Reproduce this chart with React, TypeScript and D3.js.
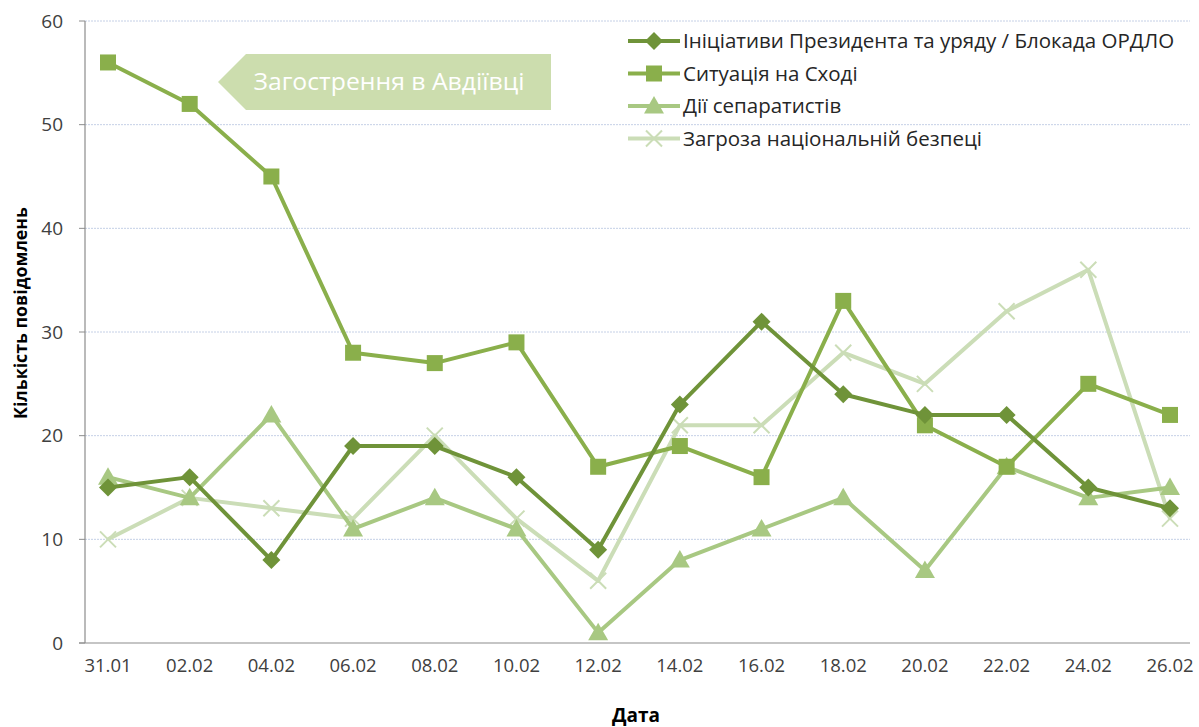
import React from "react";
import * as d3 from "d3";

const categories = ["31.01","02.02","04.02","06.02","08.02","10.02","12.02","14.02","16.02","18.02","20.02","22.02","24.02","26.02"];
const seriesNames = [
  "Ініціативи Президента та уряду / Блокада ОРДЛО",
  "Ситуація на Сході",
  "Дії сепаратистів",
  "Загроза національній безпеці",
];
const initiatives = [15, 16, 8, 19, 19, 16, 9, 23, 31, 24, 22, 22, 15, 13];
const situationEast = [56, 52, 45, 28, 27, 29, 17, 19, 16, 33, 21, 17, 25, 22];
const separatists = [16, 14, 22, 11, 14, 11, 1, 8, 11, 14, 7, 17, 14, 15];
const threat = [10, 14, 13, 12, 20, 12, 6, 21, 21, 28, 25, 32, 36, 12];
const yTicks = [0, 10, 20, 30, 40, 50, 60];
const calloutText = "Загострення в Авдіївці";
const yTitle = "Кількість повідомлень";
const xTitle = "Дата";

const colors = ["#6F9339", "#8AAF4B", "#A8C882", "#CBDDB7"];
const markers = ["diamond", "square", "triangle", "cross"];
const FONT = "'Open Sans', 'Noto Sans', sans-serif";

function Marker({ type, x, y, color }: { type: string; x: number; y: number; color: string }) {
  if (type === "diamond") {
    const s = 9;
    return <path d={`M${x},${y - s}L${x + s},${y}L${x},${y + s}L${x - s},${y}Z`} fill={color} />;
  }
  if (type === "square") {
    const s = 8;
    return <rect x={x - s} y={y - s} width={2 * s} height={2 * s} fill={color} />;
  }
  if (type === "triangle") {
    const s = 10;
    return <path d={`M${x},${y - s}L${x + s},${y + s * 0.75}L${x - s},${y + s * 0.75}Z`} fill={color} />;
  }
  const s = 8;
  return (
    <path d={`M${x - s},${y - s}L${x + s},${y + s}M${x + s},${y - s}L${x - s},${y + s}`} stroke={color} strokeWidth={2} />
  );
}

export default function App() {
  const W = 1199, H = 727;
  const left = 85, right = 1190, top = 21, bottom = 643;
  const x = d3.scalePoint<string>().domain(categories).range([108, 1170]);
  const y = d3.scaleLinear().domain([0, 60]).range([bottom, top]);
  const data = [initiatives, situationEast, separatists, threat];
  const line = d3.line<number>().x((_, i) => x(categories[i]) as number).y((v) => y(v));
  const order = [3, 2, 1, 0];

  const cy = 82, cTop = 54, cBot = 110, cLeft = 218, cTip = 246, cRight = 551;

  return (
    <svg width={W} height={H} style={{ display: "block", position: "absolute", left: 0, top: 0 }} fontFamily={FONT}>
      <rect width={W} height={H} fill="#fff" />
      {yTicks.filter((t) => t > 0).map((t) => (
        <line key={t} x1={left} x2={right} y1={y(t)} y2={y(t)} stroke="#C5D0E6" strokeWidth={1} strokeDasharray="2,1" />
      ))}
      <line x1={left} x2={left} y1={top} y2={bottom} stroke="#8C8C8C" strokeWidth={1.2} />
      <line x1={left - 6} x2={right} y1={bottom} y2={bottom} stroke="#8C8C8C" strokeWidth={1.2} />
      {yTicks.map((t) => (
        <g key={t}>
          <line x1={left - 6} x2={left} y1={y(t)} y2={y(t)} stroke="#8C8C8C" />
          <text x={left - 22} y={y(t)} dy="0.35em" textAnchor="end" fontSize={19} fill="#404040">{t}</text>
        </g>
      ))}
      {categories.map((c) => (
        <text key={c} x={x(c)} y={672} textAnchor="middle" fontSize={18.5} fill="#404040">{c}</text>
      ))}
      <text x={636} y={722} textAnchor="middle" fontSize={19} fontWeight="bold" fill="#000">{xTitle}</text>
      <text transform={`translate(27,313) rotate(-90)`} textAnchor="middle" fontSize={17.5} fontWeight="bold" fill="#000"
        textLength={212} lengthAdjust="spacingAndGlyphs">{yTitle}</text>

      <path
        d={`M${cLeft},${cy}L${cTip},${cTop}L${cRight},${cTop}L${cRight},${cBot}L${cTip},${cBot}Z`}
        fill="#CCDDAE"
      />
      <text x={389} y={cy} dy="0.35em" textAnchor="middle" fontSize={23} fill="#fff"
        textLength={271} lengthAdjust="spacingAndGlyphs">{calloutText}</text>

      {order.map((si) => (
        <g key={si}>
          <path d={line(data[si]) || ""} fill="none" stroke={colors[si]} strokeWidth={4} strokeLinejoin="round" />
          {data[si].map((v, i) => (
            <Marker key={i} type={markers[si]} x={x(categories[i]) as number} y={y(v)} color={colors[si]} />
          ))}
        </g>
      ))}

      {seriesNames.map((n, i) => {
        const ly = 41 + i * 32.5;
        return (
          <g key={n}>
            <line x1={628} x2={680} y1={ly} y2={ly} stroke={colors[i]} strokeWidth={4} />
            <Marker type={markers[i]} x={654} y={ly} color={colors[i]} />
            <text x={683} y={ly} dy="0.35em" fontSize={20.5} fill="#262626">{n}</text>
          </g>
        );
      })}
    </svg>
  );
}
